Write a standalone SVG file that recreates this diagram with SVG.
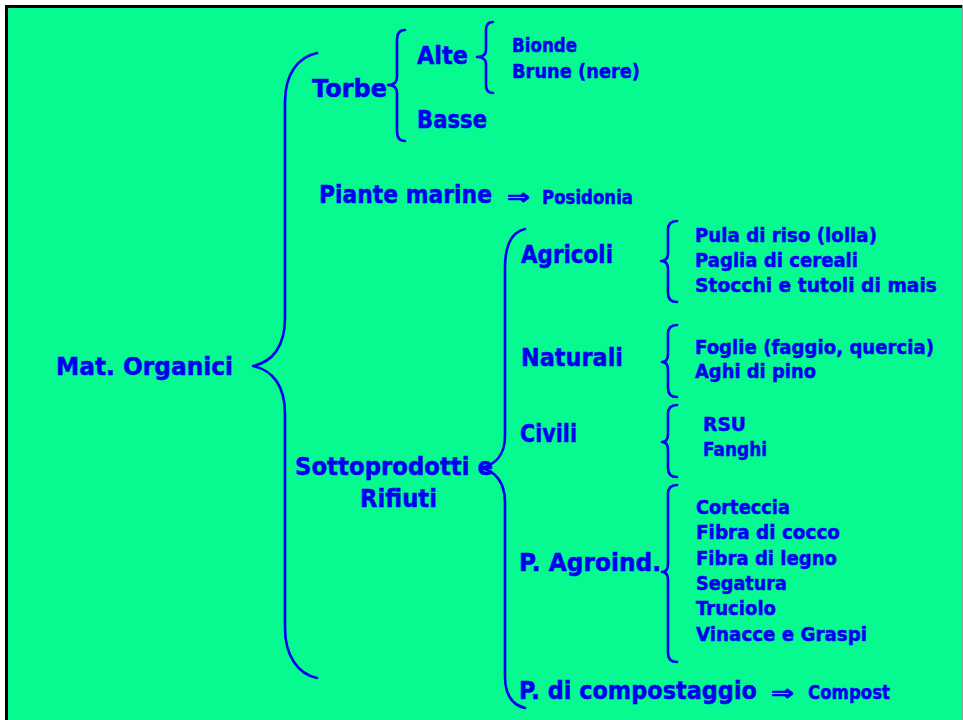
<svg xmlns="http://www.w3.org/2000/svg" width="963" height="720" viewBox="0 0 963 720">
  <style>
    text { font-family: "Comic Sans MS", "DejaVu Sans", "Liberation Sans", sans-serif; font-weight: bold; fill: #0000F5; stroke: #0000F5; stroke-width: 0.5; }
    .big { font-size: 25px; }
    .small { font-size: 20px; }
    .arrow { font-family: "DejaVu Sans", sans-serif; font-size: 21px; stroke-width: 0.7; }
    .brace { fill: none; stroke: #0000F5; stroke-width: 2.6; stroke-linecap: round; stroke-linejoin: round; }
  </style>

  <!-- slide background and frame -->
  <rect x="0" y="0" width="963" height="720" fill="#FFFFFF"/>
  <rect x="5" y="5" width="957" height="715" fill="#06FA8F"/>
  <line x1="6.5" y1="5" x2="6.5" y2="720" stroke="#000" stroke-width="3"/>
  <line x1="5" y1="6.5" x2="962" y2="6.5" stroke="#000" stroke-width="3"/>
  <line x1="962.5" y1="5" x2="962.5" y2="720" stroke="#9A9A9A" stroke-width="1"/>

  <!-- braces linking each category to its members -->
  <g id="connectors">
    <path class="brace" d="M317,53 C298,57 285,74 285,102 L285,318 C285,347 272,362 253,366 C272,370 285,385 285,414 L285,628 C285,656 298,674 317,678"/>
    <path class="brace" d="M405,30 C399,30 397,34 397,40 L397,77 C397,82 394,85 388,85 C394,85 397,88 397,93 L397,131 C397,137 399,141 405,141"/>
    <path class="brace" d="M493,22 C488,22 486,25 486,30 L486,50 C486,55 483,57 477,57 C483,57 486,60 486,64 L486,85 C486,90 488,93 493,93"/>
    <path class="brace" d="M525,229 C512,232 505,245 505,268 L505,436 C505,455 495,465 481,468 C495,471 505,482 505,502 L505,676 C505,695 512,705 525,708"/>
    <path class="brace" d="M677,221 C671,221 668,224 668,230 L668,253 C668,258 666,261 661,261 C666,261 668,264 668,269 L668,293 C668,299 671,302 677,302"/>
    <path class="brace" d="M677,325 C671,325 668,328 668,334 L668,354 C668,359 666,362 662,362 C666,362 668,365 668,370 L668,388 C668,394 671,397 677,397"/>
    <path class="brace" d="M677,405 C671,405 668,408 668,414 L668,434 C668,439 666,442 662,442 C666,442 668,445 668,450 L668,468 C668,474 671,477 677,477"/>
    <path class="brace" d="M677,485 C671,485 668,488 668,494 L668,564 C668,569 666,572 662,572 C666,572 668,575 668,580 L668,653 C668,659 671,662 677,662"/>
  </g>

  <g id="mat-organici"><text class="big" x="56" y="375" textLength="177" lengthAdjust="spacingAndGlyphs">Mat. Organici</text></g>

  <g id="torbe"><text class="big" x="312" y="97" textLength="75" lengthAdjust="spacingAndGlyphs">Torbe</text></g>
  <g id="alte"><text class="big" x="417" y="64" textLength="51" lengthAdjust="spacingAndGlyphs">Alte</text></g>
  <g id="basse"><text class="big" x="417" y="128" textLength="70" lengthAdjust="spacingAndGlyphs">Basse</text></g>
  <g id="alte-list">
    <text class="small" x="512" y="52" textLength="65" lengthAdjust="spacingAndGlyphs">Bionde</text>
    <text class="small" x="512" y="78" textLength="128" lengthAdjust="spacingAndGlyphs">Brune (nere)</text>
  </g>

  <g id="piante-marine">
    <text class="big" x="319" y="203" textLength="173" lengthAdjust="spacingAndGlyphs">Piante marine</text>
    <text class="arrow" x="507" y="204" textLength="23" lengthAdjust="spacingAndGlyphs">⇒</text>
    <text class="small" x="542" y="204" textLength="91" lengthAdjust="spacingAndGlyphs">Posidonia</text>
  </g>

  <g id="sottoprodotti">
    <text class="big" x="295" y="475" textLength="198" lengthAdjust="spacingAndGlyphs">Sottoprodotti e</text>
    <text class="big" x="360" y="507" textLength="77" lengthAdjust="spacingAndGlyphs">Rifiuti</text>
  </g>

  <g id="agricoli">
    <text class="big" x="521" y="263" textLength="92" lengthAdjust="spacingAndGlyphs">Agricoli</text>
    <text class="small" x="695" y="242" textLength="182" lengthAdjust="spacingAndGlyphs">Pula di riso (lolla)</text>
    <text class="small" x="695" y="267" textLength="163" lengthAdjust="spacingAndGlyphs">Paglia di cereali</text>
    <text class="small" x="695" y="292" textLength="242" lengthAdjust="spacingAndGlyphs">Stocchi e tutoli di mais</text>
  </g>

  <g id="naturali">
    <text class="big" x="521" y="366" textLength="102" lengthAdjust="spacingAndGlyphs">Naturali</text>
    <text class="small" x="695" y="354" textLength="239" lengthAdjust="spacingAndGlyphs">Foglie (faggio, quercia)</text>
    <text class="small" x="695" y="378" textLength="121" lengthAdjust="spacingAndGlyphs">Aghi di pino</text>
  </g>

  <g id="civili">
    <text class="big" x="520" y="442" textLength="57" lengthAdjust="spacingAndGlyphs">Civili</text>
    <text class="small" x="703" y="431" textLength="43" lengthAdjust="spacingAndGlyphs">RSU</text>
    <text class="small" x="703" y="456" textLength="64" lengthAdjust="spacingAndGlyphs">Fanghi</text>
  </g>

  <g id="agroind">
    <text class="big" x="519" y="571" textLength="142" lengthAdjust="spacingAndGlyphs">P. Agroind.</text>
    <text class="small" x="696" y="514" textLength="94" lengthAdjust="spacingAndGlyphs">Corteccia</text>
    <text class="small" x="696" y="539" textLength="144" lengthAdjust="spacingAndGlyphs">Fibra di cocco</text>
    <text class="small" x="696" y="565" textLength="141" lengthAdjust="spacingAndGlyphs">Fibra di legno</text>
    <text class="small" x="696" y="590" textLength="91" lengthAdjust="spacingAndGlyphs">Segatura</text>
    <text class="small" x="696" y="615" textLength="80" lengthAdjust="spacingAndGlyphs">Truciolo</text>
    <text class="small" x="696" y="641" textLength="171" lengthAdjust="spacingAndGlyphs">Vinacce e Graspi</text>
  </g>

  <g id="compostaggio">
    <text class="big" x="519" y="699" textLength="238" lengthAdjust="spacingAndGlyphs">P. di compostaggio</text>
    <text class="arrow" x="771" y="700" textLength="23" lengthAdjust="spacingAndGlyphs">⇒</text>
    <text class="small" x="808" y="699" textLength="82" lengthAdjust="spacingAndGlyphs">Compost</text>
  </g>
</svg>
